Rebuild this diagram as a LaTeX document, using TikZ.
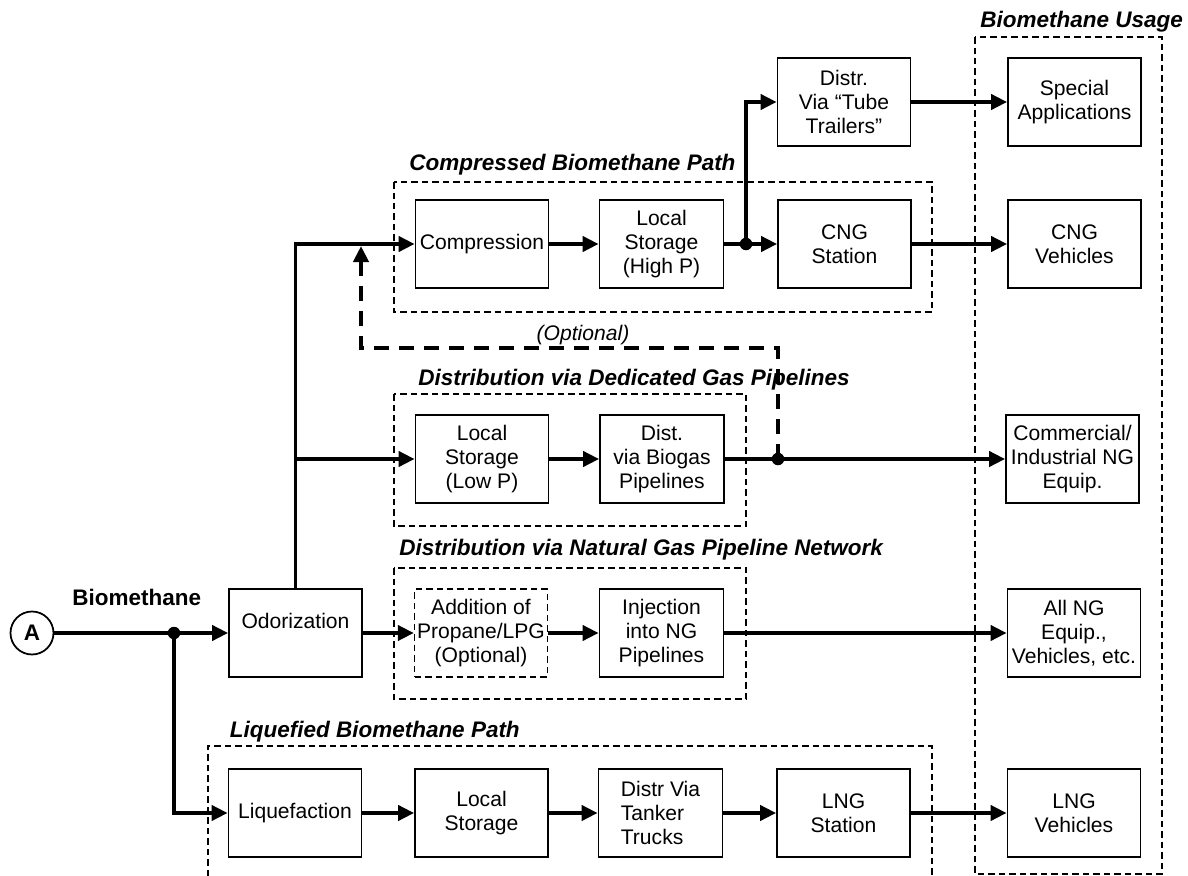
\documentclass[tikz,border=0pt]{standalone}
\usepackage{fontspec}
\setmainfont{Liberation Sans}
\usetikzlibrary{arrows.meta}
\newcommand{\grp}{\fontsize{12.8}{15}\selectfont\bfseries\itshape}
\newcommand{\txt}{\fontsize{12}{13.6}\selectfont}

\begin{document}
\begin{tikzpicture}[x=0.02cm,y=-0.02cm,font=\txt,
    >={Triangle[length=0.32cm,width=0.3cm]},
    stage/.style={draw,line width=1pt,minimum width=2.66cm,minimum height=1.76cm,
      align=center,inner sep=1pt},
    narrow/.style={stage,minimum width=2.48cm},
    groupbox/.style={line width=0.75pt,dash pattern=on 0.13cm off 0.08cm},
    grouplabel/.style={anchor=west,inner sep=0pt,font=\grp},
    flow/.style={line width=2.2pt,->},
    optflow/.style={line width=2.5pt,dash pattern=on 0.3cm off 0.2cm,->},
    joint/.style={circle,fill,inner sep=0pt,minimum size=0.25cm}]
  \useasboundingbox (0,0) rectangle (1188,876);

  % source
  \node[circle,draw,line width=1pt,minimum size=0.86cm,inner sep=0pt,
    font=\fontsize{12.8}{15}\selectfont\bfseries] (A) at (32,633) {A};
  \node[anchor=west,inner sep=0pt,font=\fontsize{12.8}{15}\selectfont\bfseries]
    (biomethane) at (72,597) {Biomethane};
  \node[joint] (split) at (174,633) {};
  \node[stage] (odor) at (295.5,633) {Odorization\\\mbox{}};

  % compressed path
  \draw[groupbox] (394,182) rectangle (932,312);
  \node[grouplabel] (cbpath) at (409,165) {Compressed Biomethane Path};
  \node[stage] (compr) at (482,244) {Compression};
  \node[narrow] (hstore) at (661.5,244) {Local\\Storage\\(High P)};
  \node[joint] (tubesplit) at (746,244) {};
  \node[stage] (cngst) at (844.5,244) {CNG\\Station};
  \node[stage] (tube) at (844,102) {Distr.\\Via “Tube\\Trailers”};

  % dedicated pipelines
  \draw[groupbox] (394,394) rectangle (746,526);
  \node[grouplabel] (dgpath) at (418,380) {Distribution via Dedicated Gas Pipelines};
  \node[stage] (lstore) at (482,459) {Local\\Storage\\(Low P)};
  \node[narrow] (biopipe) at (662,459) {Dist.\\via Biogas\\Pipelines};
  \node[joint] (optsplit) at (778,459) {};
  \node[font=\txt\itshape,inner sep=0pt] (optional) at (583,335) {(Optional)};
  \coordinate (optbend) at (361,348);
  \coordinate (optend) at (361,246);

  % natural gas network
  \draw[groupbox] (394,568) rectangle (746,699);
  \node[grouplabel] (ngpath) at (399,550) {Distribution via Natural Gas Pipeline Network};
  \node[stage,groupbox] (propane) at (481,633) {Addition of\\Propane/LPG\\(Optional)};
  \node[narrow] (inject) at (661.5,633) {Injection\\into NG\\Pipelines};

  % liquefied path
  \draw[groupbox] (208,876) |- (932,746) -- (932,876);
  \node[grouplabel] (lbpath) at (229.5,732) {Liquefied Biomethane Path};
  \node[stage] (liquef) at (295,813) {Liquefaction};
  \node[stage] (lngstore) at (481.5,813) {Local\\Storage};
  \node[narrow,align=left] (tanker) at (660.5,813) {Distr Via\\Tanker\\Trucks};
  \node[stage] (lngst) at (843.5,813) {LNG\\Station};

  % usage
  \draw[groupbox] (975,37) rectangle (1162,874);
  \node[grouplabel] (usage) at (980,22) {Biomethane Usage};
  \node[stage] (special) at (1074.5,102) {Special\\Applications};
  \node[stage] (cngveh) at (1074.5,244) {CNG\\Vehicles};
  \node[stage] (ngequip) at (1072.5,459) {Commercial/\\Industrial NG\\Equip.};
  \node[stage] (allng) at (1074,633) {All NG\\Equip.,\\Vehicles, etc.};
  \node[stage] (lngveh) at (1074,813) {LNG\\Vehicles};

  \draw[flow] (A) -- (odor);
  \draw[flow] (split.center) |- (liquef);
  \draw[flow] (odor) |- (compr);
  \draw[flow] (odor.north |- lstore) -- (lstore);
  \draw[flow] (compr) -- (hstore);
  \draw[flow] (hstore) -- (cngst);
  \draw[flow] (tubesplit.center) |- (tube);
  \draw[flow] (tube) -- (special);
  \draw[flow] (cngst) -- (cngveh);
  \draw[flow] (lstore) -- (biopipe);
  \draw[flow] (biopipe) -- (ngequip);
  \draw[optflow] (optsplit.center) |- (optbend) -- (optend);
  \draw[flow] (odor) -- (propane);
  \draw[flow] (propane) -- (inject);
  \draw[flow] (inject) -- (allng);
  \draw[flow] (liquef) -- (lngstore);
  \draw[flow] (lngstore) -- (tanker);
  \draw[flow] (tanker) -- (lngst);
  \draw[flow] (lngst) -- (lngveh);
\end{tikzpicture}
\end{document}
